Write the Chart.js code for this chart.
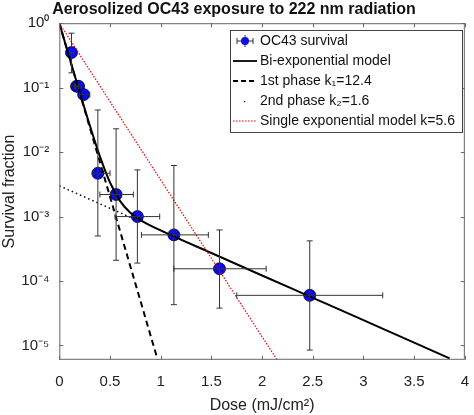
<!DOCTYPE html>
<html><head><meta charset="utf-8">
<script src="https://cdn.jsdelivr.net/npm/chart.js@4/dist/chart.umd.min.js"></script>
<style>html,body{margin:0;padding:0;background:#fff}#w{width:474px;height:415px}</style>
</head><body><div id="w"><canvas id="c"></canvas></div>
<script>
const doseData = [0.12, 0.17, 0.19, 0.24, 0.38, 0.56, 0.77, 1.13, 1.58, 2.47];
const survival = [0.35, 0.105, 0.105, 0.078, 0.0047, 0.0022, 0.001, 0.00052, 0.000155, 0.00006];
const doseLow  = [0.10, 0.15, 0.16, 0.20, 0.33, 0.40, 0.55, 0.81, 1.13, 1.75];
const doseHigh = [0.14, 0.19, 0.22, 0.30, 0.50, 0.73, 0.99, 1.47, 2.04, 3.19];
const survLow  = [0.17, 0.105, 0.105, 0.078, 0.0005, 0.00021, 0.00019, 0.000043, 0.000038, 0.0000085];
const survHigh = [0.70, 0.105, 0.105, 0.078, 0.045, 0.023, 0.0053, 0.0062, 0.00062, 0.00042];
const biDose = [0, 0.1, 0.2, 0.3, 0.4, 0.5, 0.6, 0.7, 0.8, 1.0, 1.5, 2.0, 2.5, 3.0, 3.5, 3.85];
const biSurv = [1.0, 0.292, 0.0859, 0.0261, 0.00859, 0.00338, 0.00174, 0.00115, 0.000883, 0.00061, 0.000272, 0.000122, 0.0000549, 0.0000247, 0.0000111, 0.0000063];
const ph1Dose = [0, 0.97];
const ph1Surv = [1.0, 0.000006];
const ph2Dose = [0, 0.75];
const ph2Surv = [0.003, 0.0009];
const singleDose = [0, 2.15];
const singleSurv = [1.0, 0.0000059];
const xTicks = [0, 0.5, 1, 1.5, 2, 2.5, 3, 3.5, 4];
const yTicks = [1, 0.1, 0.01, 0.001, 0.0001, 0.00001];
const yTickLabels = ['10⁰', '10⁻¹', '10⁻²', '10⁻³', '10⁻⁴', '10⁻⁵'];

const pts = (xs, ys) => xs.map((x, i) => ({x, y: ys[i]}));
const FONT = 'Arial, "Liberation Sans", sans-serif';

const framePlugin = {
  id: 'frame',
  afterDatasetsDraw(chart) {
    const {ctx, scales: {x, y}} = chart;
    ctx.save();
    ctx.strokeStyle = '#333'; ctx.lineWidth = 1;
    doseData.forEach((d, i) => {
      const px = x.getPixelForValue(d), py = y.getPixelForValue(survival[i]);
      const yl = y.getPixelForValue(survLow[i]), yh = y.getPixelForValue(survHigh[i]);
      const xl = x.getPixelForValue(doseLow[i]), xh = x.getPixelForValue(doseHigh[i]);
      ctx.beginPath();
      if (Math.abs(yl - yh) > 1) {
        ctx.moveTo(px, yl); ctx.lineTo(px, yh);
        ctx.moveTo(px - 3, yl); ctx.lineTo(px + 3, yl);
        ctx.moveTo(px - 3, yh); ctx.lineTo(px + 3, yh);
      }
      ctx.moveTo(xl, py); ctx.lineTo(xh, py);
      ctx.moveTo(xl, py - 3); ctx.lineTo(xl, py + 3);
      ctx.moveTo(xh, py - 3); ctx.lineTo(xh, py + 3);
      ctx.stroke();
    });
    ctx.restore();
  },
  afterDraw(chart) {
    const {ctx, chartArea: a, scales: {x, y}} = chart;
    ctx.save();
    ctx.strokeStyle = '#666'; ctx.lineWidth = 1;
    ctx.strokeRect(a.left + 0.5, a.top + 0.5, a.right - a.left - 1, a.bottom - a.top - 1);
    ctx.beginPath();
    xTicks.forEach(t => {
      const p = Math.round(x.getPixelForValue(t)) + 0.5;
      ctx.moveTo(p, a.bottom); ctx.lineTo(p, a.bottom - 4);
      ctx.moveTo(p, a.top); ctx.lineTo(p, a.top + 4);
    });
    yTicks.forEach(t => {
      const p = Math.round(y.getPixelForValue(t)) + 0.5;
      ctx.moveTo(a.left, p); ctx.lineTo(a.left + 4, p);
      ctx.moveTo(a.right, p); ctx.lineTo(a.right - 4, p);
    });
    ctx.stroke();
    const lx = 230, ly = 30, lw = 232, lh = 102;
    ctx.fillStyle = '#fff'; ctx.fillRect(lx, ly, lw, lh);
    ctx.strokeStyle = '#444'; ctx.strokeRect(lx + 0.5, ly + 0.5, lw, lh);
    ctx.font = '14px ' + FONT; ctx.textBaseline = 'middle'; ctx.fillStyle = '#111';
    const rows = ['OC43 survival', 'Bi-exponential model', '1st phase k₁=12.4', '2nd phase k₂=1.6', 'Single exponential model k=5.6'];
    rows.forEach((t, i) => {
      const yy = ly + 11 + i * 20;
      const sx = lx + 3, ex = lx + 27;
      ctx.beginPath(); ctx.lineWidth = 1.8; ctx.setLineDash([]);
      if (i === 0) {
        ctx.lineWidth = 1; ctx.strokeStyle = '#333';
        ctx.moveTo(sx + 4, yy); ctx.lineTo(ex - 4, yy);
        ctx.moveTo(sx + 4, yy - 3); ctx.lineTo(sx + 4, yy + 3);
        ctx.moveTo(ex - 4, yy - 3); ctx.lineTo(ex - 4, yy + 3);
        ctx.moveTo(lx + 15, yy - 6); ctx.lineTo(lx + 15, yy + 6);
        ctx.stroke();
        ctx.beginPath(); ctx.fillStyle = '#1010e0'; ctx.arc(lx + 15, yy, 4, 0, 7); ctx.fill();
        ctx.fillStyle = '#111';
      } else if (i === 1) { ctx.strokeStyle = '#000'; ctx.moveTo(sx, yy); ctx.lineTo(ex, yy); ctx.stroke(); }
      else if (i === 2) { ctx.strokeStyle = '#000'; ctx.setLineDash([5, 3]); ctx.moveTo(sx, yy); ctx.lineTo(ex, yy); ctx.stroke(); }
      else if (i === 3) { ctx.fillStyle = '#000'; ctx.fillRect(lx + 14, yy, 1.2, 1.2); ctx.fillStyle = '#111'; }
      else { ctx.strokeStyle = '#e00'; ctx.lineWidth = 1.2; ctx.setLineDash([1.5, 1.5]); ctx.moveTo(sx, yy); ctx.lineTo(ex, yy); ctx.stroke(); }
      ctx.setLineDash([]);
      ctx.fillText(t, lx + 30, yy);
    });
    ctx.restore();
  }
};

new Chart(document.getElementById('c'), {
  type: 'scatter',
  data: {
    datasets: [
      {label: 'Single', data: pts(singleDose, singleSurv), showLine: true, borderColor: '#e00', borderWidth: 1.2, borderDash: [1.5, 1.5], pointRadius: 0},
      {label: 'Phase1', data: pts(ph1Dose, ph1Surv), showLine: true, borderColor: '#000', borderWidth: 2, borderDash: [6, 4], pointRadius: 0},
      {label: 'Phase2', data: pts(ph2Dose, ph2Surv), showLine: true, borderColor: '#000', borderWidth: 1.5, borderDash: [1.5, 3], pointRadius: 0},
      {label: 'Bi', data: pts(biDose, biSurv), showLine: true, borderColor: '#000', borderWidth: 2, pointRadius: 0, cubicInterpolationMode: 'monotone'},
      {label: 'OC43 survival', data: pts(doseData, survival), pointRadius: 6, pointBackgroundColor: '#0a0ae8', pointBorderColor: '#000030', pointBorderWidth: 0.8}
    ]
  },
  options: {
    responsive: true, maintainAspectRatio: false, animation: false,
    layout: {padding: {left: 0, right: 6, top: 0, bottom: 0}},
    plugins: {
      legend: {display: false}, tooltip: {enabled: false},
      title: {display: true, text: 'Aerosolized OC43 exposure to 222 nm radiation', color: '#111', font: {family: FONT, size: 16, weight: 'bold'}, padding: {top: 0, bottom: 4}}
    },
    scales: {
      x: {type: 'linear', min: 0, max: 4,
        afterBuildTicks: s => { s.ticks = xTicks.map(v => ({value: v})); },
        ticks: {color: '#222', font: {family: FONT, size: 15}, callback: v => String(v), maxRotation: 0, padding: 5},
        grid: {display: false}, border: {display: false},
        title: {display: true, text: 'Dose (mJ/cm²)', color: '#222', font: {family: FONT, size: 16}, padding: {top: 0, bottom: 0}}},
      y: {type: 'logarithmic', min: 0.000006, max: 1,
        afterBuildTicks: s => { s.ticks = yTicks.map(v => ({value: v})); },
        ticks: {color: '#222', font: {family: FONT, size: 15}, callback: v => yTickLabels[yTicks.findIndex(t => Math.abs(t - v) / t < 1e-6)] ?? '', padding: 2},
        grid: {display: false}, border: {display: false},
        title: {display: true, text: 'Survival fraction', color: '#222', font: {family: FONT, size: 16}, padding: {top: 0, bottom: 0}}}
    }
  },
  plugins: [framePlugin]
});
</script></body></html>
